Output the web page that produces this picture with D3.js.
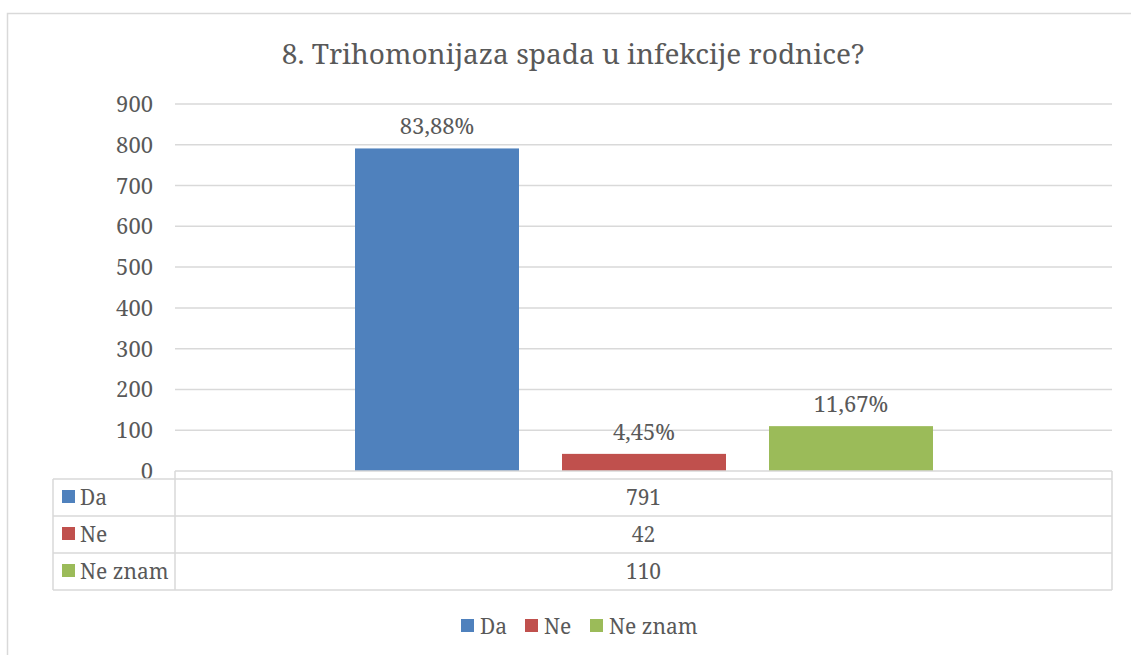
<!DOCTYPE html>
<html>
<head>
<meta charset="utf-8">
<script src="https://cdn.jsdelivr.net/npm/d3@7"></script>
<style>
  body { margin: 0; background: #fff; }
</style>
</head>
<body>
<svg></svg>
<script>
// data
const series = ['Da', 'Ne', 'Ne znam'];
const counts = [791, 42, 110];
const percents = ['83,88%', '4,45%', '11,67%'];
const colors = ['#4F81BD', '#C0504D', '#9BBB59'];
const yTicks = [0, 100, 200, 300, 400, 500, 600, 700, 800, 900];

const width = 1131, height = 655;
const plotLeft = 175, plotRight = 1112, plotTop = 104, plotBottom = 471;
const font = 'Noto Serif';
const textColor = '#595959';
const lineColor = '#D9D9D9';

const svg = d3.select('svg')
    .attr('width', width)
    .attr('height', height)
    .attr('font-family', font)
    .attr('fill', textColor);

// outer chart border (runs off the right and bottom of the picture)
svg.append('rect')
    .attr('x', 7.5).attr('y', 13.5)
    .attr('width', 1200).attr('height', 700)
    .attr('fill', 'none')
    .attr('stroke', lineColor)
    .attr('stroke-width', 1.5);

// title
svg.append('text')
    .attr('x', 573).attr('y', 64)
    .attr('text-anchor', 'middle')
    .attr('font-size', 28)
    .text('8. Trihomonijaza spada u infekcije rodnice?');

const yScale = d3.scaleLinear()
    .domain([0, 900])
    .range([plotBottom, plotTop]);

// gridlines
svg.selectAll('line.grid')
    .data(yTicks.filter(d => d > 0))
    .enter()
    .append('line')
    .attr('class', 'grid')
    .attr('x1', plotLeft).attr('x2', plotRight)
    .attr('y1', d => yScale(d)).attr('y2', d => yScale(d))
    .attr('stroke', lineColor)
    .attr('stroke-width', 1.5);

// y tick labels
svg.selectAll('text.ytick')
    .data(yTicks)
    .enter()
    .append('text')
    .attr('class', 'ytick')
    .attr('x', 153)
    .attr('y', d => yScale(d) + 8)
    .attr('text-anchor', 'end')
    .attr('font-size', 22)
    .text(d => d);

// bars - one category, three series side by side
const barWidth = 164, barGap = 43;
const xScale = d3.scaleBand()
    .domain(series)
    .range([355, 933 + barGap]);

svg.selectAll('rect.bar')
    .data(counts)
    .enter()
    .append('rect')
    .attr('class', 'bar')
    .attr('x', (d, i) => xScale(series[i]))
    .attr('y', d => yScale(d))
    .attr('width', barWidth)
    .attr('height', d => plotBottom - yScale(d))
    .attr('fill', (d, i) => colors[i]);

// value labels
svg.selectAll('text.pct')
    .data(counts)
    .enter()
    .append('text')
    .attr('class', 'pct')
    .attr('x', (d, i) => xScale(series[i]) + barWidth / 2)
    .attr('y', d => yScale(d) - 14)
    .attr('text-anchor', 'middle')
    .attr('font-size', 22)
    .text((d, i) => percents[i]);

// data table
const tableLeft = 53, tableTop = 479, rowH = 37;
const g = svg.append('g')
    .attr('stroke', lineColor)
    .attr('stroke-width', 1.5);

g.append('line').attr('x1', plotLeft).attr('x2', plotRight).attr('y1', plotBottom).attr('y2', plotBottom);
g.append('line').attr('x1', plotLeft).attr('x2', plotLeft).attr('y1', plotBottom).attr('y2', tableTop + rowH * 3);
g.append('line').attr('x1', plotRight).attr('x2', plotRight).attr('y1', plotBottom).attr('y2', tableTop + rowH * 3);
g.append('line').attr('x1', tableLeft).attr('x2', tableLeft).attr('y1', tableTop).attr('y2', tableTop + rowH * 3);
g.selectAll('line.row')
    .data(d3.range(4))
    .enter()
    .append('line')
    .attr('x1', tableLeft).attr('x2', plotRight)
    .attr('y1', d => tableTop + d * rowH).attr('y2', d => tableTop + d * rowH);

const rows = svg.selectAll('g.trow')
    .data(series)
    .enter()
    .append('g')
    .attr('transform', (d, i) => `translate(0,${tableTop + i * rowH})`);

rows.append('rect')
    .attr('x', 62).attr('y', 11)
    .attr('width', 13).attr('height', 13)
    .attr('fill', (d, i) => colors[i]);

rows.append('text')
    .attr('x', 80).attr('y', 26)
    .attr('font-size', 21)
    .text(d => d);

rows.append('text')
    .attr('x', (plotLeft + plotRight) / 2).attr('y', 26)
    .attr('text-anchor', 'middle')
    .attr('font-size', 21)
    .text((d, i) => counts[i]);

// legend
const legendX = [461, 525, 590];
const legend = svg.selectAll('g.legend')
    .data(series)
    .enter()
    .append('g')
    .attr('transform', (d, i) => `translate(${legendX[i]},619)`);

legend.append('rect')
    .attr('width', 13).attr('height', 13)
    .attr('fill', (d, i) => colors[i]);

legend.append('text')
    .attr('x', 19).attr('y', 15)
    .attr('font-size', 21)
    .text(d => d);
</script>
</body>
</html>
